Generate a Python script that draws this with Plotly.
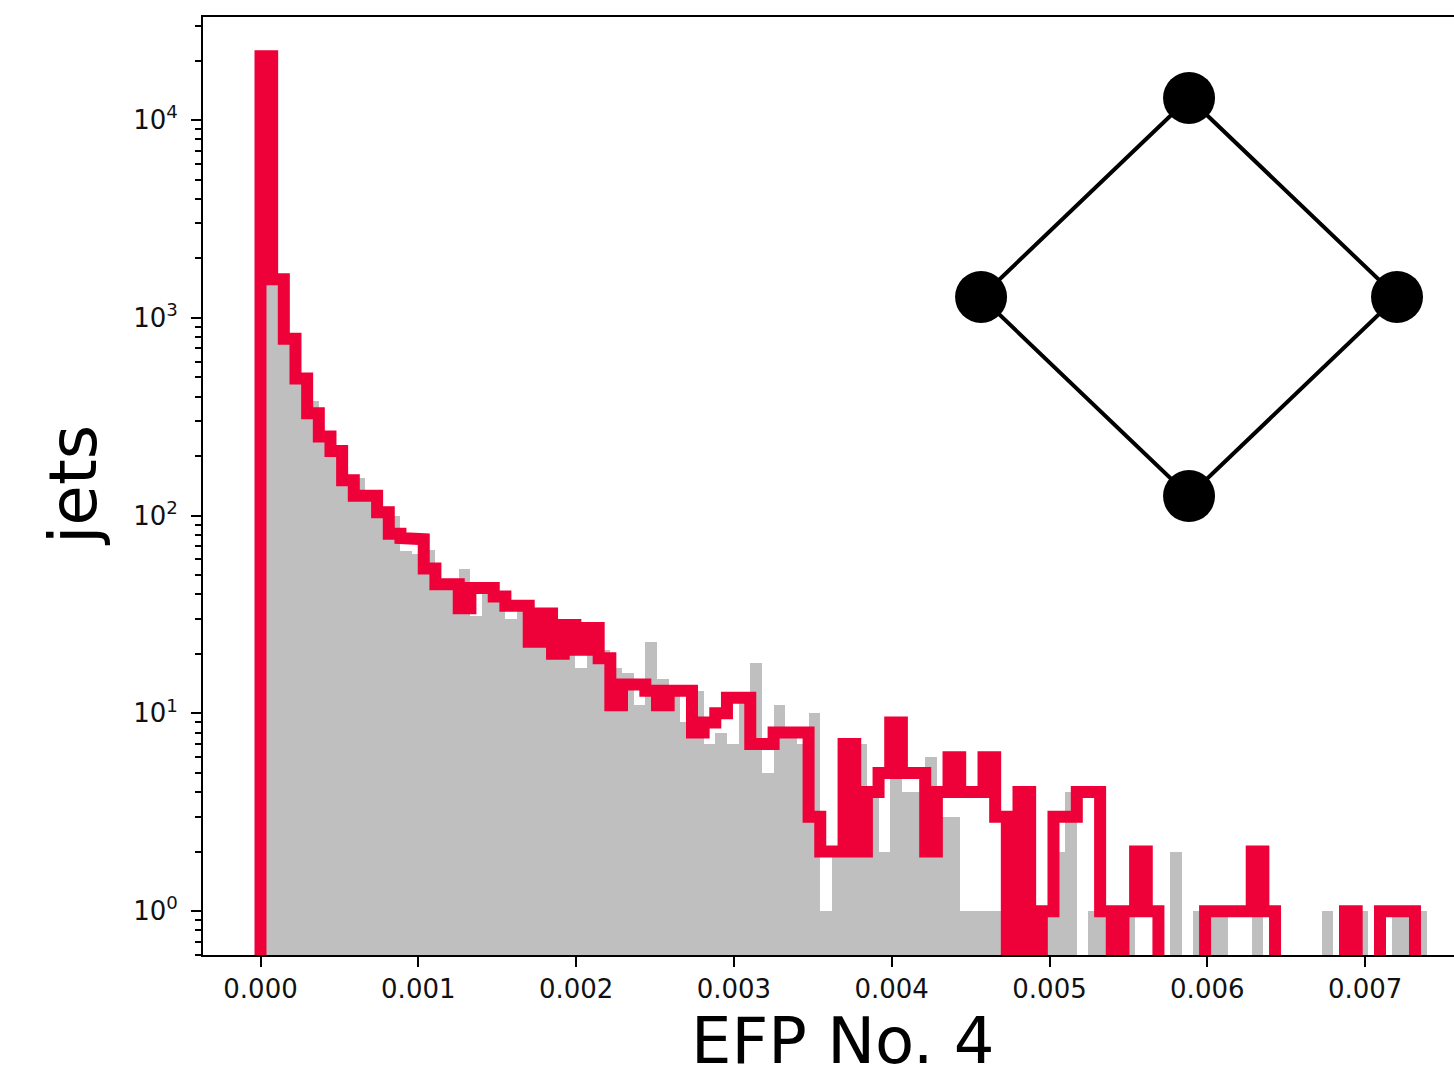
import numpy as np
import plotly.graph_objects as go

# Histogram binning shared by both samples
x_min, x_max, n_bins = 0.0, 0.00739, 100

# Red sample: counts per bin
red_counts = [
    21000, 1565, 783, 494, 329, 251, 212, 151, 126, 126,
    104, 81, 77, 76, 54, 45, 45, 34, 43, 43,
    39, 35, 35, 23, 32, 20, 28, 21, 27, 19,
    11, 14, 14, 13, 11, 13, 13, 8, 9, 10,
    12, 12, 7, 7, 8, 8, 8, 3, 2, 2,
    7, 2, 4, 5, 9, 5, 5, 2, 4, 6,
    4, 4, 6, 3, 0, 4, 0, 1, 3, 3,
    4, 4, 1, 0, 1, 2, 1, 0, 0, 0,
    0, 1, 1, 1, 1, 2, 1, 0, 0, 0,
    0, 0, 0, 1, 0, 0, 1, 1, 1, 0,
]

# Grey sample: counts per bin
grey_counts = [
    20000, 1500, 760, 480, 380, 245, 205, 148, 155, 122,
    100, 99, 66, 64, 67, 45, 44, 54, 31, 40,
    38, 30, 33, 24, 31, 21, 27, 17, 26, 21,
    17, 16, 11, 23, 15, 13, 9, 13, 7, 8,
    7, 12, 18, 5, 11, 8, 7, 10, 1, 2,
    3, 7, 4, 2, 5, 4, 4, 6, 3, 3,
    1, 1, 1, 1, 1, 1, 1, 1, 2, 4,
    0, 1, 1, 0, 1, 0, 0, 0, 2, 0,
    1, 1, 1, 0, 0, 1, 0, 0, 0, 0,
    0, 1, 0, 1, 1, 0, 0, 1, 1, 1,
]

x_tick_vals = [0.000, 0.001, 0.002, 0.003, 0.004, 0.005, 0.006, 0.007]
x_tick_text = ["0.000", "0.001", "0.002", "0.003", "0.004", "0.005", "0.006", "0.007"]
y_tick_vals = [1, 10, 100, 1000, 10000]
y_tick_text = ["10<sup>0</sup>", "10<sup>1</sup>", "10<sup>2</sup>", "10<sup>3</sup>", "10<sup>4</sup>"]

# Graph drawn in the inset: four vertices joined in a ring
node_x = [0, 1, 0, -1]
node_y = [1, 0, -1, 0]

edges = np.linspace(x_min, x_max, n_bins + 1)
centers = 0.5 * (edges[:-1] + edges[1:])
width = edges[1] - edges[0]

# Step outline for the red histogram; empty bins drop far below the axis
floor = 1e-3
step_x, step_y = [edges[0]], [floor]
for i, c in enumerate(red_counts):
    v = c if c > 0 else floor
    step_x += [edges[i], edges[i + 1]]
    step_y += [v, v]
step_x.append(edges[-1])
step_y.append(floor)

grey_y = [c if c > 0 else None for c in grey_counts]

font = "DejaVu Sans"
fig = go.Figure()

fig.add_trace(go.Bar(
    x=centers, y=grey_y, width=width,
    marker=dict(color="#bfbfbf", line=dict(width=0)),
    showlegend=False, hoverinfo="skip",
))
fig.add_trace(go.Scatter(
    x=step_x, y=step_y, mode="lines",
    line=dict(color="#EE0038", width=12),
    showlegend=False, hoverinfo="skip",
))

# Inset graph
ring_x = node_x + [node_x[0]]
ring_y = node_y + [node_y[0]]
fig.add_trace(go.Scatter(
    x=ring_x, y=ring_y, mode="lines",
    line=dict(color="black", width=4),
    xaxis="x2", yaxis="y2", showlegend=False, hoverinfo="skip",
))
fig.add_trace(go.Scatter(
    x=node_x, y=node_y, mode="markers",
    marker=dict(color="black", size=52, line=dict(width=0)),
    cliponaxis=False,
    xaxis="x2", yaxis="y2", showlegend=False, hoverinfo="skip",
))

W, H = 1454, 1078
ml, mr, mt, mb = 203, 0, 17, 123
plot_w, plot_h = W - ml - mr, H - mt - mb
px_per_unit = 157.8 / 0.001
x0_px = 260.5 - ml
x_lo = -x0_px / px_per_unit
x_hi = x_lo + plot_w / px_per_unit

minor_vals = []
for k in range(-1, 5):
    for m in range(2, 10):
        minor_vals.append(m * 10 ** k)

fig.update_layout(
    width=W, height=H,
    margin=dict(l=ml, r=mr, t=mt, b=mb, pad=0),
    paper_bgcolor="white", plot_bgcolor="rgba(0,0,0,0)",
    bargap=0, barmode="overlay",
    font=dict(family=font, color="black"),
    xaxis=dict(
        range=[x_lo, x_hi], tickvals=x_tick_vals, ticktext=x_tick_text,
        ticks="outside", ticklen=10, tickwidth=2, tickcolor="black",
        showline=True, linewidth=2, linecolor="black", mirror=True,
        showgrid=False, zeroline=False,
        tickfont=dict(family=font, size=26, color="#111"),
    ),
    yaxis=dict(
        type="log", range=[np.log10(0.6), np.log10(33200)],
        tickvals=y_tick_vals, ticktext=y_tick_text,
        ticks="outside", ticklen=10, tickwidth=2, tickcolor="black",
        minor=dict(tickvals=minor_vals, ticks="outside", ticklen=6,
                   tickwidth=1.5, tickcolor="black"),
        showline=True, linewidth=2, linecolor="black", mirror=False,
        showgrid=False, zeroline=False, ticklabelstandoff=8,
        tickfont=dict(family=font, size=26, color="#111"),
    ),
    xaxis2=dict(domain=[0.5887, 0.9877], range=[-1.2, 1.2], visible=False,
                anchor="y2", fixedrange=True),
    yaxis2=dict(domain=[0.4469, 0.9561], range=[-1.2, 1.2], visible=False,
                anchor="x2", fixedrange=True),
    annotations=[
        dict(text="EFP No. 4", xref="paper", yref="paper",
             x=(843 - ml) / plot_w, y=(955 - 1040.5) / plot_h,
             xanchor="center", yanchor="middle", showarrow=False,
             font=dict(family=font, size=64, color="black")),
        dict(text="jets", xref="paper", yref="paper",
             x=(73 - ml) / plot_w, y=0.5, textangle=-90,
             xanchor="center", yanchor="middle", showarrow=False,
             font=dict(family=font, size=66, color="black")),
    ],
)

fig.write_html("out.html")
